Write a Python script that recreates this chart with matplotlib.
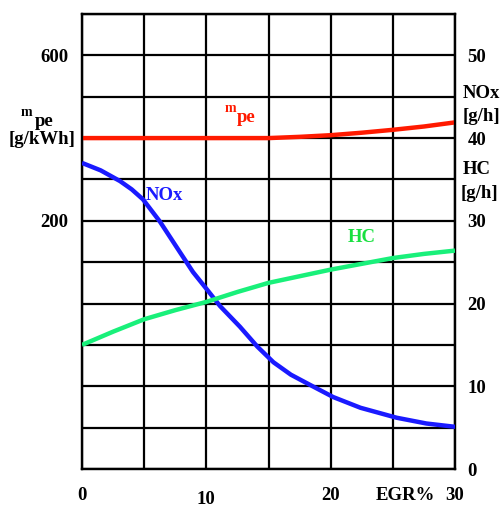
import matplotlib
matplotlib.use('Agg')
import matplotlib.pyplot as plt
from matplotlib.transforms import ScaledTranslation

plt.rcParams['font.family'] = ['Liberation Serif', 'DejaVu Serif']
plt.rcParams['font.weight'] = 'bold'

# EGR % (x) and curve values
egr_mpe = [0, 5, 10, 15, 17.5, 20, 22.5, 25, 27.5, 30]
mpe = [400, 400, 400, 400, 403, 407, 413, 420, 428, 438]          # g/kWh, left axis

egr_nox = [0, 1.5, 3.06, 4.0, 4.9, 6.27, 7.88, 8.93, 10.05, 11.1, 12.7, 14.1,
           15.4, 16.8, 18.3, 20.2, 22.4, 25.3, 27.7, 30]
nox = [37.0, 36.1, 34.8, 33.8, 32.6, 29.9, 26.2, 23.8, 21.7, 19.7, 17.2, 14.8,
       12.9, 11.4, 10.2, 8.7, 7.4, 6.2, 5.5, 5.1]                   # g/h

egr_hc = [0, 2.5, 5, 7.5, 10, 12.5, 15, 17.5, 20, 22.5, 25, 27.5, 30]
hc = [15.0, 16.6, 18.1, 19.2, 20.2, 21.4, 22.5, 23.3, 24.1, 24.8, 25.5, 26.0, 26.4]   # g/h

x_ticks = [0, 5, 10, 15, 20, 25, 30]
x_labels = ['0', '', '10', '', '20', '', '30']
left_ticks = list(range(-400, 701, 100))
left_labels = ['600' if t == 600 else '200' if t == 200 else '' for t in left_ticks]
right_ticks = [0, 10, 20, 30, 40, 50]

fig = plt.figure(figsize=(5.01, 5.07), dpi=100)
ax = fig.add_axes([82 / 501, 38 / 507, 373 / 501, 455 / 507])
ax2 = ax.twinx()

ax.set_xlim(0, 30)
ax.set_ylim(-400, 700)
ax2.set_ylim(0, 55)

ax.set_xticks(x_ticks)
ax.set_xticklabels(x_labels)
ax.set_yticks(left_ticks)
ax.set_yticklabels(left_labels)
ax2.set_yticks(right_ticks)
ax.grid(True, color='black', linewidth=1.6)
ax.set_axisbelow(True)

fs = 13.5
ax.tick_params(axis='both', length=0, labelsize=fs)
ax.tick_params(axis='x', pad=13)
ax.tick_params(axis='y', pad=10)
ax2.tick_params(axis='y', length=0, labelsize=fs, pad=9)
for sp in list(ax.spines.values()) + list(ax2.spines.values()):
    sp.set_linewidth(1.6)

# "10" sits a bit lower than the other x labels
for lbl in ax.get_xticklabels():
    if lbl.get_text() == '10':
        lbl.set_transform(lbl.get_transform() + ScaledTranslation(0, -0.035, fig.dpi_scale_trans))

ax.plot(egr_mpe, mpe, color='#ff1a00', linewidth=3.2, solid_capstyle='butt', zorder=3)
ax2.plot(egr_nox, nox, color='#1a1aff', linewidth=3.2, solid_capstyle='butt', zorder=3)
ax2.plot(egr_hc, hc, color='#19f07a', linewidth=3.2, solid_capstyle='butt', zorder=3)

W, H = 501, 507
def ft(x, y, s, **kw):
    fig.text(x / W, 1 - y / H, s, **kw)

# curve labels
ft(225, 109, 'm', color='#ff1a00', fontsize=10, ha='left', va='center')
ft(237, 118, 'pe', color='#ff1a00', fontsize=fs, ha='left', va='center')
ft(146, 195, 'NOx', color='#1a1aff', fontsize=fs, ha='left', va='center')
ft(348, 237, 'HC', color='#19e040', fontsize=fs, ha='left', va='center')

# axis titles
ft(21, 113, 'm', color='black', fontsize=10, ha='left', va='center')
ft(35, 122, 'pe', color='black', fontsize=fs, ha='left', va='center')
ft(42, 139, '[g/kWh]', color='black', fontsize=fs, ha='center', va='center')
ft(481, 93, 'NOx', color='black', fontsize=fs, ha='center', va='center')
ft(481, 116, '[g/h]', color='black', fontsize=fs, ha='center', va='center')
ft(477, 170, 'HC', color='black', fontsize=fs, ha='center', va='center')
ft(479, 193, '[g/h]', color='black', fontsize=fs, ha='center', va='center')
ft(405, 496, 'EGR%', color='black', fontsize=fs, ha='center', va='center')

fig.savefig('out.png', dpi=100)
